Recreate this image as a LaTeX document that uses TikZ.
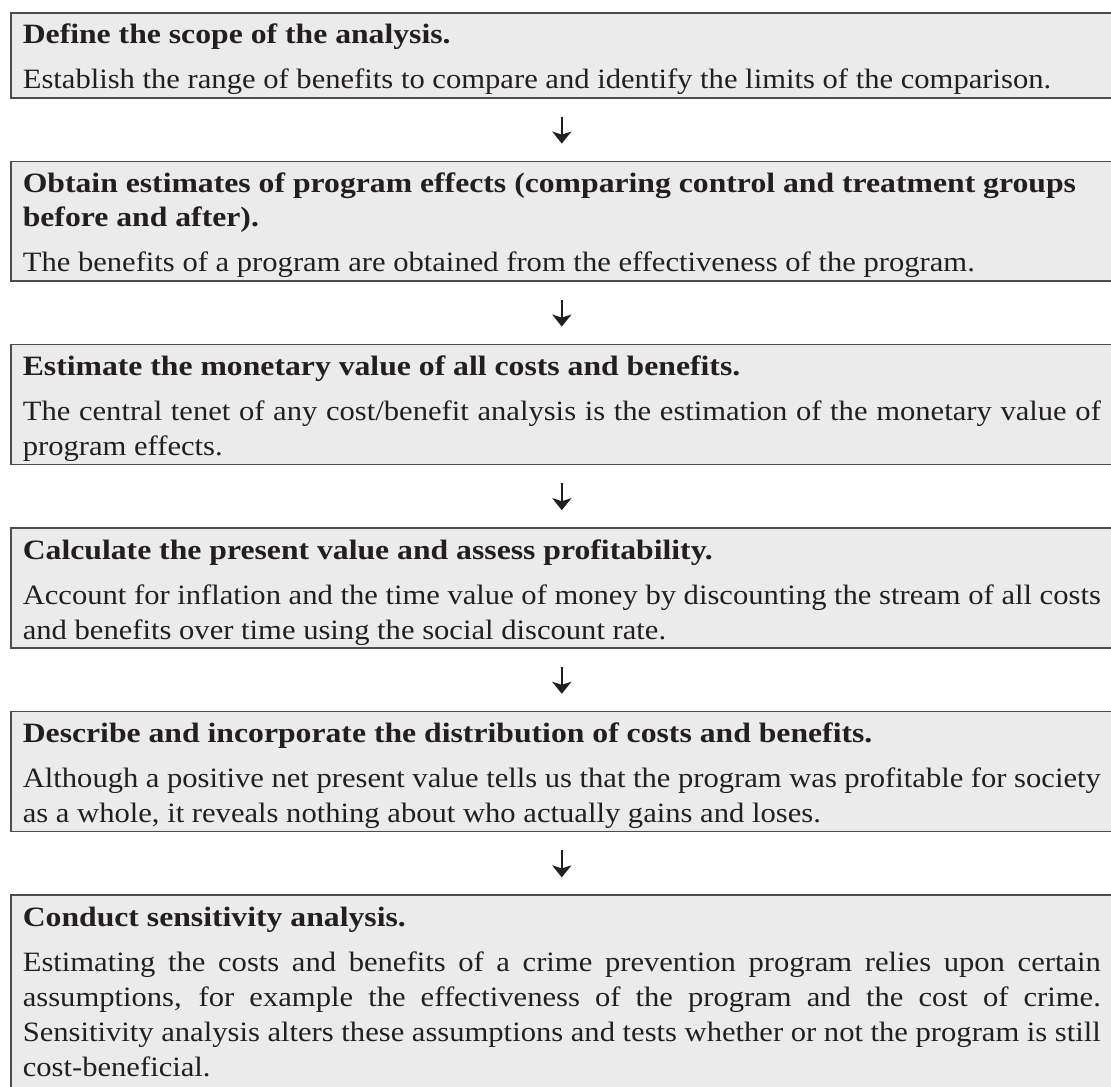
\documentclass[tikz,border=0pt]{standalone}
\usepackage{fontspec}
\setmainfont{Liberation Serif}[FakeStretch=1.093]
\newfontfamily\titlefont{Liberation Serif}[FakeStretch=1.132]
\usetikzlibrary{positioning, arrows.meta}
\definecolor{boxgray}{HTML}{EBEBEC}
\definecolor{inkgray}{HTML}{231F20}
\tikzstyle{stepbox} = [rectangle, draw=black!70, line width=0.8pt, fill=boxgray, text=inkgray, text width=539pt, inner xsep=6pt, inner ysep=0pt, align=justify]
\tikzstyle{arrow} = [line width=1.3pt, draw=inkgray, -{Stealth[length=6pt,width=9.5pt,inset=1.5pt]}, shorten <=9pt, shorten >=8.5pt]

\newcommand{\steptext}[3][4.5pt]{%
\parindent=0pt\parskip=0pt\hyphenpenalty=10000\tolerance=9999%
{\raggedright\fontsize{14pt}{17.2pt}\titlefont\bfseries\rule{0pt}{15.5pt}#2\par}%
\vspace{5pt}%
{\fontsize{14pt}{17.5pt}\selectfont #3\rule[-#1]{0pt}{#1}\par}}

\begin{document}
\begin{tikzpicture}

\clip (0,0) rectangle (555.5pt,-543pt);

\node[stepbox, anchor=north west] (b1) at (5pt,-6pt)
{\steptext{Define the scope of the analysis.}{Establish the range of benefits to compare and identify the limits of the comparison.}};

\node[stepbox, below=31pt of b1] (b2)
{\steptext{Obtain estimates of program effects (comparing control and treatment groups\\ before and after).}{The benefits of a program are obtained from the effectiveness of the program.}};

\node[stepbox, below=31pt of b2] (b3)
{\steptext{Estimate the monetary value of all costs and benefits.}{The central tenet of any cost/benefit analysis is the estimation of the monetary value of\linebreak program effects.}};

\node[stepbox, below=31pt of b3] (b4)
{\steptext{Calculate the present value and assess profitability.}{Account for inflation and the time value of money by discounting the stream of all costs\linebreak and benefits over time using the social discount rate.}};

\node[stepbox, below=31pt of b4] (b5)
{\steptext{Describe and incorporate the distribution of costs and benefits.}{Although a positive net present value tells us that the program was profitable for society\linebreak as a whole, it reveals nothing about who actually gains and loses.}};

\node[stepbox, below=31pt of b5] (b6)
{\steptext[12pt]{Conduct sensitivity analysis.}{Estimating the costs and benefits of a crime prevention program relies upon certain\linebreak assumptions, for example the effectiveness of the program and the cost of crime.\linebreak Sensitivity analysis alters these assumptions and tests whether or not the program is still\linebreak cost-beneficial.}};

\foreach \a/\b in {b1/b2,b2/b3,b3/b4,b4/b5,b5/b6}
\draw[arrow] (\a) -- (\b);

\end{tikzpicture}
\end{document}
